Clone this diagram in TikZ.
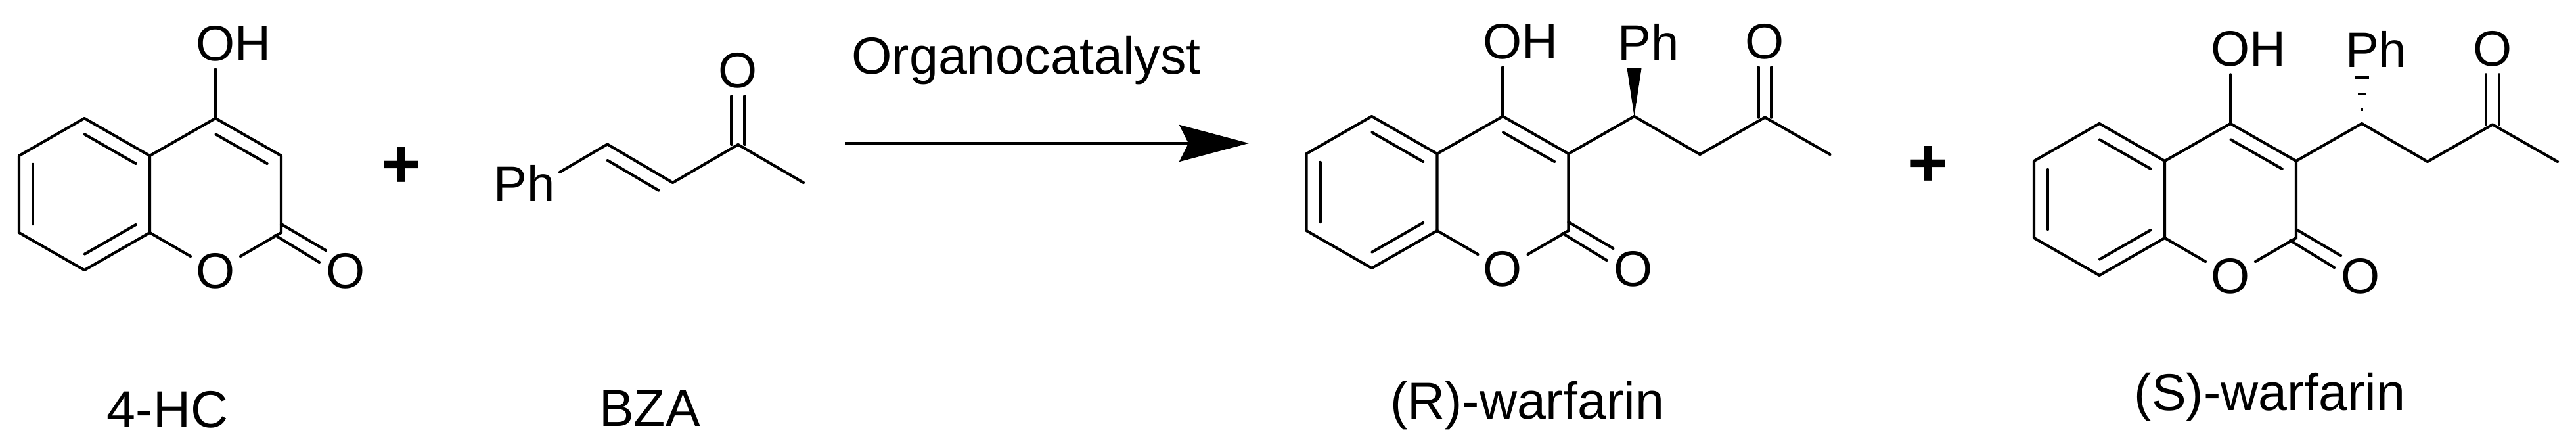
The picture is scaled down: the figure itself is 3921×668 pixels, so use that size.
\documentclass[tikz,border=0pt]{standalone}
\usepackage{fontspec}
\setmainfont{Liberation Sans}
\usetikzlibrary{arrows.meta,calc}

\tikzset{
  bond/.style={line width=2.1pt,line cap=round,line join=round},
  atom/.style={font=\fontsize{38}{38}\selectfont,inner xsep=4pt,inner ysep=6pt},
  caption/.style={font=\fontsize{39.5}{40}\selectfont,inner sep=0pt,anchor=base},
  plussign/.style={font=\fontsize{52}{52}\selectfont\bfseries,inner sep=0pt}
}

% 双键内侧短线
\newcommand{\innerbond}[2]{%
  \draw[bond] ($(#1)!0.11!(#2)!10.5pt!-90:(#2)$) -- ($(#2)!0.11!(#1)!10.5pt!90:(#1)$);}

% 香豆素骨架, 原点在 C4
\newcommand{\chromenone}[1]{%
  \coordinate (#1c4) at (0,0);
  \coordinate (#1c3) at (100,57);
  \coordinate (#1c2) at (100,174);
  \coordinate (#1c8a) at (-100,174);
  \coordinate (#1c4a) at (-100,57);
  \coordinate (#1c5) at (-199.5,0);
  \coordinate (#1c6) at (-299,57);
  \coordinate (#1c7) at (-299,174);
  \coordinate (#1c8) at (-199.5,231);
  \coordinate (#1cop) at (100,161);
  \coordinate (#1coq) at (168,201);
  \coordinate (#1cor) at (91,178);
  \coordinate (#1cos) at (158,219);
  \node[atom] (#1oa) at (0,232) {O};
  \node[atom] (#1ob) at (198.5,232) {O};
  \node[atom] (#1oh) at (27,-114) {OH};
  \draw[bond] (#1c4a) -- (#1c5) -- (#1c6) -- (#1c7) -- (#1c8) -- (#1c8a) -- cycle;
  \draw[bond] (#1c4a) -- (#1c4) -- (#1c3) -- (#1c2);
  \draw[bond] (#1c8a) -- (#1oa);
  \draw[bond] (#1c2) -- (#1oa);
  \draw[bond] (#1c4) -- (#1c4 |- #1oh.south);
  \draw[bond] (#1cop) -- (#1coq);
  \draw[bond] (#1cor) -- (#1cos);
  \innerbond{#1c5}{#1c4a}
  \innerbond{#1c7}{#1c6}
  \innerbond{#1c8a}{#1c8}
  \innerbond{#1c4}{#1c3}
}

% 侧链
\newcommand{\sidechain}[1]{%
  \coordinate (#1cs) at (200,0);
  \coordinate (#1ch) at (300,58);
  \coordinate (#1ck) at (399,1.5);
  \coordinate (#1me) at (498,58);
  \node[atom] (#1ph) at (221.5,-113) {Ph};
  \node[atom] (#1ok) at (399,-114) {O};
  \coordinate (#1ws) at (#1cs |- #1ph.south);
  \draw[bond] (#1c3) -- (#1cs) -- (#1ch) -- (#1ck) -- (#1me);
  \draw[bond] ([xshift=-5pt]#1ck) -- ([xshift=-5pt]#1ck |- #1ok.south);
  \draw[bond] ([xshift=5pt]#1ck) -- ([xshift=5pt]#1ck |- #1ok.south);
}

\begin{document}
\begin{tikzpicture}[x=0.5pt,y=-0.5pt]
  \useasboundingbox (0,0) rectangle (3921,668);

  % 4-HC
  \begin{scope}[shift={(328,180)}]
    \chromenone{a}
  \end{scope}
  \node[caption] (lab4hc) at (255,650) {4-HC};
  \node[plussign] (plusa) at (611,255) {+};

  % BZA
  \node[atom] (bph) at (798,279) {Ph};
  \coordinate (bg) at (852,262);
  \coordinate (ba) at (924.5,219.5);
  \coordinate (bb) at (1024,278);
  \coordinate (bc) at (1123.5,220);
  \coordinate (bd) at (1223,278);
  \node[atom] (bo) at (1123.5,107) {O};
  \draw[bond] (bg) -- (ba) -- (bb) -- (bc) -- (bd);
  \innerbond{ba}{bb}
  \draw[bond] ([xshift=-5pt]bc) -- ([xshift=-5pt]bc |- bo.south);
  \draw[bond] ([xshift=5pt]bc) -- ([xshift=5pt]bc |- bo.south);
  \node[caption] (labbza) at (989,648.5) {BZA};

  % 反应箭头
  \coordinate (arra) at (1286,218);
  \coordinate (arrb) at (1901,218);
  \draw[line width=1.8pt,-{Stealth[length=53pt,width=28pt,inset=7pt]}] (arra) -- (arrb);
  \node[caption] (labcat) at (1562,113) {Organocatalyst};

  % (R)-warfarin
  \begin{scope}[shift={(2287.5,177)}]
    \chromenone{r}
    \sidechain{r}
    \fill (rcs) -- ([xshift=-5.5pt]rws) -- ([xshift=5.5pt]rws) -- cycle;
  \end{scope}
  \node[caption] (labr) at (2324.5,637) {(R)-warfarin};
  \node[plussign] (plusb) at (2935,253.5) {+};

  % (S)-warfarin
  \begin{scope}[shift={(3395,188)}]
    \chromenone{s}
    \sidechain{s}
    \foreach \pos/\half in {0.29/1,0.61/3,0.96/5.5}
      \draw[line width=2pt] ($(scs)!\pos!(sws)+(-\half pt,0)$) -- ($(scs)!\pos!(sws)+(\half pt,0)$);
  \end{scope}
  \node[caption] (labs) at (3455,624) {(S)-warfarin};
\end{tikzpicture}
\end{document}
